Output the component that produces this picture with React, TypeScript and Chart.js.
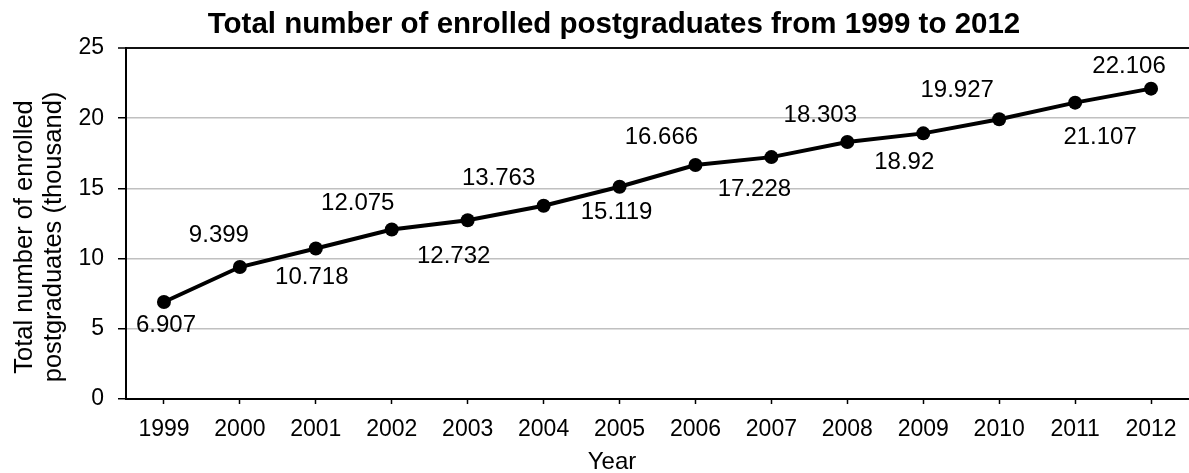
import React, { useEffect, useRef } from "react";
import { Chart, registerables } from "chart.js";

Chart.register(...registerables);

// Academic years on the category axis
const years = [
  "1999", "2000", "2001", "2002", "2003", "2004", "2005",
  "2006", "2007", "2008", "2009", "2010", "2011", "2012",
];

// Enrolled postgraduates, thousands
const enrolled = [
  6.907, 9.399, 10.718, 12.075, 12.732, 13.763, 15.119,
  16.666, 17.228, 18.303, 18.92, 19.927, 21.107, 22.106,
];

// Value-axis range and step
const yMin = 0;
const yMax = 25;
const yStep = 5;

// Hand-placed offsets of each value label from its point, in pixels
const labelOffsets: [number, number][] = [
  [2, 23], [-21, -32], [-4, 29], [-34, -26], [-14, 36], [-45, -27], [-3, 26],
  [-34, -28], [-17, 32], [-27, -27], [-19, 29], [-42, -29], [25, 35], [-22, -22],
];

const titleText = "Total number of enrolled postgraduates from 1999 to 2012";
const xTitle = "Year";
const yTitleLines = ["Total number of enrolled", "postgraduates (thousand)"];

const FONT = "'Liberation Sans', Arial, sans-serif";

const W = 1189;
const H = 473;
const PLOT_LEFT = 126;
const PLOT_TOP = 48;
const PLOT_BOTTOM = 399;

const valueLabels = {
  id: "valueLabels",
  afterDatasetsDraw(chart: any) {
    const ctx = chart.ctx;
    const meta = chart.getDatasetMeta(0);
    ctx.save();
    ctx.font = `24px ${FONT}`;
    ctx.fillStyle = "#000";
    ctx.textAlign = "center";
    ctx.textBaseline = "middle";
    meta.data.forEach((pt: any, i: number) => {
      const [dx, dy] = labelOffsets[i] || [0, -20];
      ctx.fillText(String(enrolled[i]), pt.x + dx, pt.y + dy);
    });
    ctx.restore();
  },
};

const titles = {
  id: "titles",
  afterDraw(chart: any) {
    const ctx = chart.ctx;
    ctx.save();
    ctx.fillStyle = "#000";
    ctx.textAlign = "center";
    ctx.textBaseline = "alphabetic";

    ctx.font = `bold 29.5px ${FONT}`;
    ctx.fillText(titleText, 614, 33);

    ctx.font = `24px ${FONT}`;
    ctx.fillText(xTitle, 612, 469);

    ctx.font = `25.5px ${FONT}`;
    ctx.translate(0, 237);
    ctx.rotate(-Math.PI / 2);
    ctx.fillText(yTitleLines[0], 0, 32);
    ctx.fillText(yTitleLines[1], 0, 61);
    ctx.restore();
  },
};

export default function App() {
  const canvasRef = useRef<HTMLCanvasElement | null>(null);

  useEffect(() => {
    const canvas = canvasRef.current;
    if (!canvas) return;
    const chart = new Chart(canvas, {
      type: "line",
      data: {
        labels: years,
        datasets: [
          {
            data: enrolled,
            borderColor: "#000",
            backgroundColor: "#000",
            borderWidth: 4,
            pointRadius: 7,
            pointBackgroundColor: "#000",
            pointBorderColor: "#000",
            pointBorderWidth: 0,
            tension: 0,
            fill: false,
          },
        ],
      },
      options: {
        responsive: false,
        maintainAspectRatio: false,
        animation: false,
        devicePixelRatio: 1,
        layout: {
          autoPadding: false,
          padding: { top: PLOT_TOP, left: 0, right: 0, bottom: 0 },
        },
        plugins: {
          legend: { display: false },
          title: { display: false },
          tooltip: { enabled: false },
        },
        scales: {
          x: {
            type: "category",
            offset: true,
            afterFit(scale: any) {
              scale.height = H - PLOT_BOTTOM;
              scale.paddingLeft = 0;
              scale.paddingRight = 0;
            },
            grid: {
              display: true,
              drawOnChartArea: false,
              drawTicks: true,
              tickLength: 5,
              tickColor: "#000",
              tickWidth: 1.5,
              offset: false,
            },
            border: { display: true, color: "#000", width: 2 },
            ticks: {
              color: "#000",
              font: { family: FONT, size: 23 },
              padding: 12,
              maxRotation: 0,
              autoSkip: false,
            },
          },
          y: {
            min: yMin,
            max: yMax,
            afterFit(scale: any) {
              scale.width = PLOT_LEFT;
            },
            grid: {
              color: (c: any) =>
                c.tick && (c.tick.value === yMax || c.tick.value === yMin) ? "#111" : "#c0c0c0",
              lineWidth: (c: any) => (c.tick && c.tick.value === yMax ? 2 : 1.5),
              drawTicks: true,
              tickLength: 8,
              tickColor: "#000",
              tickWidth: 1.5,
            },
            border: { display: true, color: "#000", width: 2 },
            ticks: {
              stepSize: yStep,
              color: "#000",
              font: { family: FONT, size: 23 },
              padding: 14,
            },
          },
        },
      },
      plugins: [valueLabels, titles],
    });
    return () => chart.destroy();
  }, []);

  return (
    <div style={{ position: "absolute", left: 0, top: 0, width: W, height: H, background: "#fff" }}>
      <canvas ref={canvasRef} width={W} height={H} style={{ display: "block" }} />
    </div>
  );
}
